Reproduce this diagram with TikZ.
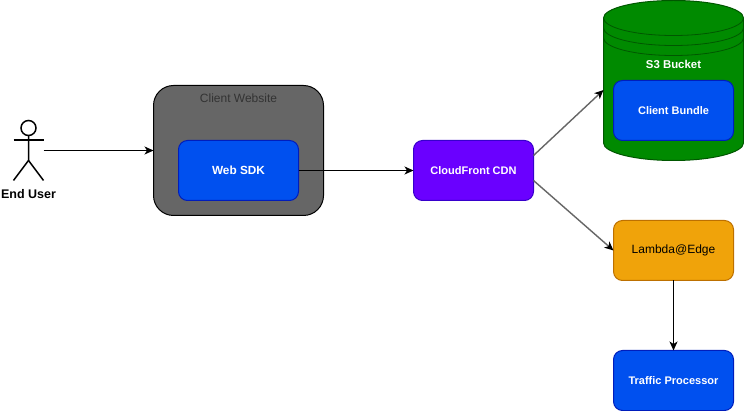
\documentclass[tikz,border=0pt]{standalone}
\usepackage{fontspec}
\setmainfont{Liberation Sans}
\usetikzlibrary{positioning,arrows.meta}
\definecolor{blueFill}{HTML}{0050EF}
\definecolor{blueLine}{HTML}{001DBC}
\definecolor{purpleFill}{HTML}{6A00FF}
\definecolor{purpleLine}{HTML}{3700CC}
\definecolor{orangeFill}{HTML}{F0A30A}
\definecolor{orangeLine}{HTML}{BD7000}
\definecolor{greenFill}{HTML}{008A00}
\definecolor{greenLine}{HTML}{005700}
\definecolor{grayFill}{HTML}{666666}

\begin{document}
\begin{tikzpicture}[
x=1pt, y=-1pt,
>={Stealth[length=9pt,width=8pt,inset=2.5pt]},
every node/.style={font=\fontsize{12}{14}\selectfont, outer sep=0pt, inner sep=0pt},
link/.style={->, line width=1.1pt, draw=black},
graylink/.style={-{Stealth[length=9pt,width=8pt,inset=2.5pt,black]}, line width=1.4pt, draw=grayFill},
service/.style={rectangle, rounded corners=9pt, draw, line width=1pt, minimum width=120pt, minimum height=60pt, text=white},
bluebox/.style={service, fill=blueFill, draw=blueLine, font=\fontsize{11}{14}\selectfont\bfseries},
cdnbox/.style={service, fill=purpleFill, draw=purpleLine, font=\fontsize{11}{14}\selectfont\bfseries},
edgebox/.style={service, fill=orangeFill, draw=orangeLine, text=black},
website/.style={rectangle, rounded corners=20pt, draw=black, fill=grayFill, line width=1pt, minimum width=170pt, minimum height=130pt},
figure/.style={rectangle, minimum width=30pt, minimum height=60pt}
]
\useasboundingbox (0,0) rectangle (744,411);

% end user
\node[figure](user) at (28.5,150.5){};
\node[below=9pt of user, font=\fontsize{12.5}{14}\selectfont\bfseries](user_label){End User};
\begin{scope}[shift={(user.center)}, line width=1.5pt]
\draw (0,-22.5) circle (7.5);
\draw (-15,-10.5) -- (15,-10.5);
\draw (0,-15) -- (0,10) -- (-15,30);
\draw (0,10) -- (15,30);
\end{scope}

% client website
\node[website, right=110pt of user](client){};
\node[below=8pt of client.north, text=black!80](client_label){Client Website};
\node[bluebox, yshift=-20pt, font=\fontsize{11.8}{14}\selectfont\bfseries](sdk) at (client){Web SDK};

\node[cdnbox, right=115pt of sdk](cdn){CloudFront CDN};

% s3 bucket
\node[rectangle, minimum width=140pt, minimum height=160pt, right=70pt of cdn, yshift=90pt](s3){};
\begin{scope}[shift={(s3.center)}]
\draw[fill=greenFill, draw=greenLine, line width=1pt]
  (-70,-62.5) .. controls (-70,-72) and (-39,-80) .. (0,-80) .. controls (39,-80) and (70,-72) .. (70,-62.5)
  -- (70,62.5) .. controls (70,72) and (39,80) .. (0,80) .. controls (-39,80) and (-70,72) .. (-70,62.5) -- cycle;
\foreach \ypos in {-62.5,-52.5,-42.5}
  \draw[draw=greenLine, line width=0.8pt] (-70,\ypos) .. controls (-70,\ypos+9.5) and (-39,\ypos+17.5) .. (0,\ypos+17.5)
    .. controls (39,\ypos+17.5) and (70,\ypos+9.5) .. (70,\ypos);
\end{scope}
\node[text=white, font=\fontsize{11.4}{14}\selectfont\bfseries, yshift=16pt](s3_label) at (s3){S3 Bucket};
\node[bluebox, yshift=-30pt](bundle) at (s3){Client Bundle};

\node[edgebox, below=80pt of bundle](lambda){Lambda@Edge};
\node[bluebox, below=70pt of lambda](traffic){Traffic Processor};

\draw[link] (user.east) -- (client.west);
\draw[link] (sdk.east) -- (cdn.west);
\draw[graylink] ([yshift=15pt]cdn.east) -- ([yshift=-9.5pt]s3.west);
\draw[graylink] ([yshift=-10pt]cdn.east) -- (lambda.west);
\draw[link] (lambda.south) -- (traffic.north);
\end{tikzpicture}
\end{document}
